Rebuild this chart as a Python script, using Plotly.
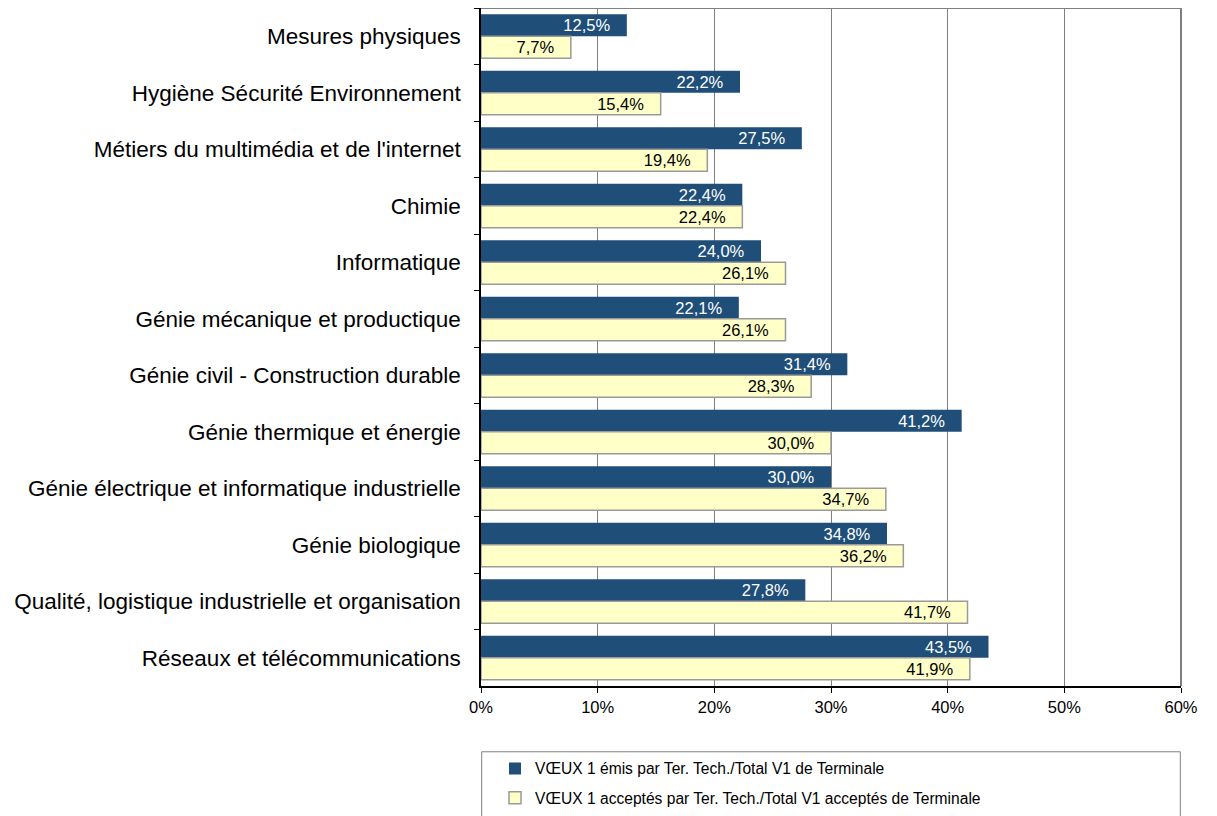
import plotly.graph_objects as go

categories = [
    "Mesures physiques",
    "Hygiène Sécurité Environnement",
    "Métiers du multimédia et de l'internet",
    "Chimie",
    "Informatique",
    "Génie mécanique et productique",
    "Génie civil - Construction durable",
    "Génie thermique et énergie",
    "Génie électrique et informatique industrielle",
    "Génie biologique",
    "Qualité, logistique industrielle et organisation",
    "Réseaux et télécommunications",
]
emis = [12.5, 22.2, 27.5, 22.4, 24.0, 22.1, 31.4, 41.2, 30.0, 34.8, 27.8, 43.5]
acceptes = [7.7, 15.4, 19.4, 22.4, 26.1, 26.1, 28.3, 30.0, 34.7, 36.2, 41.7, 41.9]
series_names = [
    "VŒUX 1 émis par Ter. Tech./Total V1 de Terminale",
    "VŒUX 1 acceptés par Ter. Tech./Total V1 acceptés de Terminale",
]
x_ticks = [0, 10, 20, 30, 40, 50, 60]

FONT = "Liberation Sans, Arial, sans-serif"
PAD = "\u00a0\u00a0\u00a0"

fig = go.Figure()
fig.add_trace(go.Bar(
    y=categories, x=emis, orientation="h", name=series_names[0],
    legendgroup="a",
    marker=dict(color="#1F4E79", line=dict(color="#1F4E79", width=0)),
    texttemplate="%{x:.1f}%" + PAD, textposition="inside", insidetextanchor="end",
    textfont=dict(color="white", size=16.5, family=FONT), constraintext="none",
    textangle=0,
))
fig.add_trace(go.Bar(
    y=categories, x=acceptes, orientation="h", name=series_names[1],
    legendgroup="b",
    marker=dict(color="#FFFFC8", line=dict(color="#9A9A9A", width=1.5)),
    texttemplate="%{x:.1f}%" + PAD, textposition="inside", insidetextanchor="end",
    textfont=dict(color="black", size=16.5, family=FONT), constraintext="none",
    textangle=0,
))

fig.update_layout(
    width=1209, height=808,
    margin=dict(l=473, r=36, t=0, b=130),
    paper_bgcolor="white", plot_bgcolor="white",
    separators=", ",
    barmode="group", bargap=0.22, bargroupgap=0,
    font=dict(family=FONT, color="black"),
    showlegend=True,
    legend=dict(
        x=0.02, y=-0.097, xanchor="left", yanchor="top",
        orientation="v", traceorder="grouped",
        font=dict(size=15.6, family=FONT), bgcolor="rgba(0,0,0,0)",
        itemwidth=30, tracegroupgap=6,
    ),
    shapes=[
        dict(type="rect", xref="paper", yref="paper", x0=0.001, x1=0.999,
             y0=-0.245, y1=-0.097, line=dict(color="#808080", width=1),
             fillcolor="rgba(0,0,0,0)"),
        dict(type="line", xref="paper", yref="paper", x0=0, x1=1, y0=1, y1=1,
             line=dict(color="#808080", width=2), layer="below"),
        dict(type="line", xref="paper", yref="paper", x0=1, x1=1, y0=0, y1=1,
             line=dict(color="#808080", width=2), layer="below"),
    ],
)
fig.update_xaxes(
    range=[0, 60], tickvals=x_ticks, ticktext=[f"{t}%" for t in x_ticks],
    showgrid=True, gridcolor="#808080", gridwidth=1,
    showline=True, linecolor="black", linewidth=1.5,
    ticks="outside", ticklen=5, tickcolor="black",
    tickfont=dict(size=16.5, family=FONT), zeroline=False,
)
fig.update_yaxes(
    autorange="reversed", showline=True, linecolor="black", linewidth=1.5,
    ticks="outside", ticklen=5, tickcolor="black", tickson="boundaries",
    tickfont=dict(size=22.5, family=FONT), showgrid=False, ticklabelstandoff=14,
)

fig.write_html("out.html")
